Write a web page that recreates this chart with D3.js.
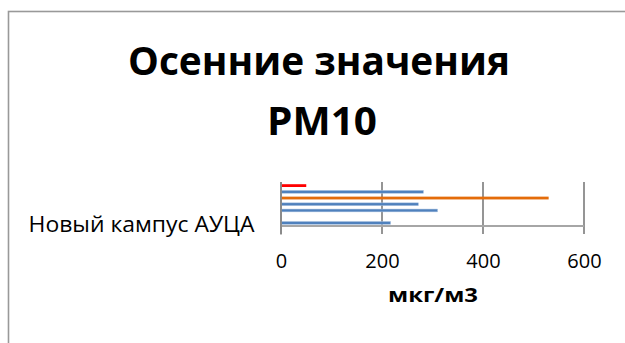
<!DOCTYPE html>
<html>
<head>
<meta charset="utf-8">
<script src="https://cdn.jsdelivr.net/npm/d3@7"></script>
<style>
  html, body { margin: 0; padding: 0; background: #fff; }
  svg { display: block; }
</style>
</head>
<body>
<svg id="chart" width="625" height="343"></svg>
<script>
// Осенние значения PM10 — одна категория, несколько серий (мкг/м3)
const titleLines = ["Осенние значения", "PM10"];
const categories = ["Новый кампус АУЦА"];
// серии сверху вниз; null — нет значения
const seriesValues = [50, 282, 530, 272, 310, null, 217];
const seriesColors = ["#ff0000", "#4f81bd", "#e46c0a", "#4f81bd", "#4f81bd", "#4f81bd", "#4f81bd"];
const xTicks = [0, 200, 400, 600];
const xTitle = "мкг/м3";

const svg = d3.select("#chart");
const font = "'Open Sans', 'Noto Sans', sans-serif";

// рамка области диаграммы
svg.append("rect")
  .attr("x", 8.5).attr("y", 11.5)
  .attr("width", 700).attr("height", 400)
  .attr("fill", "#fff")
  .attr("stroke", "#999").attr("stroke-width", 1.6);

// заголовок
const titleG = svg.append("g")
  .attr("font-family", font).attr("font-weight", 700)
  .attr("font-size", 39).attr("fill", "#000");
titleG.append("text")
  .attr("x", 319).attr("y", 75).attr("text-anchor", "middle")
  .attr("textLength", 382).attr("lengthAdjust", "spacingAndGlyphs")
  .text(titleLines[0]);
titleG.append("text")
  .attr("x", 322).attr("y", 134.5).attr("text-anchor", "middle")
  .attr("textLength", 110).attr("lengthAdjust", "spacingAndGlyphs")
  .text(titleLines[1]);

// шкалы
const plot = { left: 281, right: 584, top: 182.5, bottom: 226 };
const x = d3.scaleLinear().domain([0, 600]).range([plot.left, plot.right]);
const yCat = d3.scaleBand().domain(categories).range([plot.top, plot.bottom]);
const ySeries = d3.scaleBand()
  .domain(d3.range(seriesValues.length))
  .range([0, yCat.bandwidth()]);

// вертикальные линии сетки с делениями оси
svg.append("g")
  .selectAll("line")
  .data(xTicks)
  .join("line")
  .attr("x1", d => x(d)).attr("x2", d => x(d))
  .attr("y1", plot.top - 0.5).attr("y2", plot.bottom + 8)
  .attr("stroke", "#8a8a8a").attr("stroke-width", 1.8);

// полосы
const barH = 2.8;
svg.append("g")
  .selectAll("rect")
  .data(seriesValues.map((v, i) => ({ v, i })).filter(d => d.v != null))
  .join("rect")
  .attr("x", x(0))
  .attr("y", d => yCat(categories[0]) + ySeries(d.i) + (ySeries.bandwidth() - barH) / 2)
  .attr("width", d => x(d.v) - x(0))
  .attr("height", barH)
  .attr("fill", d => seriesColors[d.i])
  .attr("stroke", d => d.i === 0 || d.i === 2 ? "none" : "#a9c1e0")
  .attr("stroke-width", 0.5);

// ось категорий и нижняя линия оси
svg.append("line")
  .attr("x1", x(0)).attr("x2", x(600))
  .attr("y1", plot.bottom).attr("y2", plot.bottom)
  .attr("stroke", "#a6a6a6").attr("stroke-width", 1.8);
svg.append("line")
  .attr("x1", x(0)).attr("x2", x(0))
  .attr("y1", plot.top - 0.5).attr("y2", plot.bottom + 8.5)
  .attr("stroke", "#8a8a8a").attr("stroke-width", 1.8);

// подпись категории
svg.append("text")
  .attr("x", 254.5).attr("y", 231.5)
  .attr("text-anchor", "end")
  .attr("font-family", font).attr("font-size", 22.5)
  .attr("textLength", 226).attr("lengthAdjust", "spacingAndGlyphs")
  .attr("fill", "#000")
  .text(categories[0]);

// подписи значений оси X
const xAxis = d3.axisBottom(x).tickValues(xTicks).tickSize(0).tickPadding(0);
const axG = svg.append("g")
  .attr("transform", `translate(0, ${plot.bottom})`)
  .call(xAxis);
axG.select(".domain").remove();
axG.selectAll("text")
  .attr("dy", null)
  .attr("y", 41.5)
  .attr("font-family", font)
  .attr("font-size", 20)
  .attr("fill", "#000");

// название оси
svg.append("text")
  .attr("x", 433).attr("y", 302)
  .attr("text-anchor", "middle")
  .attr("font-family", font).attr("font-weight", 700).attr("font-size", 19.5)
  .attr("textLength", 90).attr("lengthAdjust", "spacingAndGlyphs")
  .attr("fill", "#000")
  .text(xTitle);
</script>
</body>
</html>
